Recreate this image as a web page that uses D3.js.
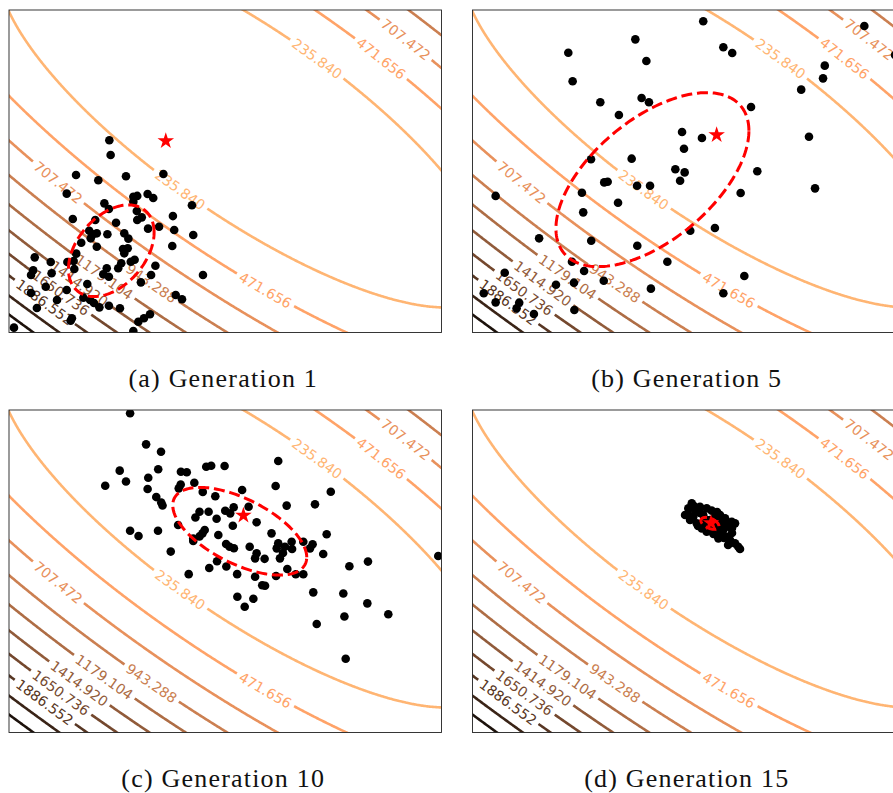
<!DOCTYPE html>
<html>
<head>
<meta charset="utf-8">
<script src="https://cdn.jsdelivr.net/npm/d3@7"></script>
<style>
  html, body { margin: 0; padding: 0; background: #fff; }
  svg { display: block; }
</style>
</head>
<body>
<div id="chart"></div>
<script>
// contour levels, as printed on the labels (first and last are not drawn)
const contourLevels = [0.024, 235.840, 471.656, 707.472, 943.288, 1179.104, 1414.920, 1650.736, 1886.552, 2122.368, 2358.184, 2594.000];

// where matplotlib put the inline labels: [level index, x, y]
const labelSpots = [
  [1, 4.29, 7.02], [2, 7.23, 7.00], [3, 8.31, 8.14],
  [3, -7.72, -0.71], [1, -2.09, -1.16], [2, 1.84, -7.36],
  [4, -3.36, -6.85], [5, -5.64, -6.64], [6, -6.72, -6.95],
  [7, -7.56, -7.47], [8, -8.34, -8.09]
];

const captions = ["(a) Generation 1", "(b) Generation 5", "(c) Generation 10", "(d) Generation 15"];

// sampled population of each generation
const gen1 = [
  [-5.36,1.92],[-5.30,1.01],[-6.90,-0.23],[-5.87,-0.56],[-4.59,-0.31],[-2.86,-0.17],[-7.33,-1.39],[-4.25,-1.58],[-4.07,-1.53],[-4.25,-1.89],
  [-3.59,-1.41],[-3.33,-1.66],[-5.59,-1.99],[-5.38,-2.34],[-1.54,-2.11],[-4.09,-2.47],[-4.07,-3.02],[-3.86,-2.86],[-7.05,-2.96],[-6.01,-3.02],
  [-5.05,-3.19],[-3.57,-3.56],[-3.06,-3.44],[-2.42,-2.78],[-2.36,-3.64],[-1.48,-3.95],[-6.29,-3.69],[-6.12,-3.91],[-5.94,-3.85],[-6.22,-4.16],
  [-5.45,-3.91],[-4.67,-3.85],[-4.48,-4.18],[-6.66,-4.43],[-5.94,-4.68],[-4.73,-4.82],[-4.51,-4.78],[-4.67,-5.09],[-2.45,-4.64],[-6.89,-5.11],
  [-8.81,-5.34],[-8.07,-5.63],[-7.30,-5.63],[-7.01,-5.57],[-4.37,-5.61],[-4.19,-5.49],[-4.95,-6.02],[-4.81,-5.71],[-5.48,-6.02],[-5.64,-6.39],
  [-5.38,-6.54],[-3.23,-5.86],[-3.43,-6.43],[-1.03,-6.43],[-6.98,-6.06],[-8.98,-6.43],[-8.88,-6.14],[-8.03,-6.33],[-3.90,-6.89],[-6.38,-6.99],
  [-8.30,-7.16],[-8.98,-7.55],[-7.33,-7.36],[-7.78,-7.98],[-6.56,-7.84],[-6.25,-7.98],[-6.07,-8.17],[-5.82,-8.44],[-5.38,-8.34],[-4.87,-8.50],
  [-2.29,-7.67],[-2.00,-7.94],[-8.71,-8.48],[-7.15,-9.27],[-7.09,-9.12],[-4.02,-9.33],[-3.76,-9.12],[-3.48,-8.87],[-4.25,-9.91],[-9.77,-9.70]
];
const gen5 = [
  [0.67,9.30],[8.12,9.01],[9.54,7.21],[-2.47,8.18],[-5.57,7.35],[-1.96,6.84],[1.60,7.69],[2.01,7.33],[-5.37,5.58],[6.29,6.55],
  [6.21,5.76],[5.20,5.06],[-4.09,4.28],[-2.18,4.54],[-1.84,4.28],[2.88,3.98],[-3.23,3.49],[-0.31,2.43],[0.61,2.06],[5.56,2.14],
  [-0.22,1.40],[-4.52,0.74],[-2.64,0.78],[-0.62,0.12],[-0.19,-0.07],[3.17,0.00],[-0.40,-0.59],[-3.91,-0.69],[-3.75,-0.65],[-2.39,-0.90],
  [-1.79,-0.90],[5.84,-1.06],[-8.93,-1.53],[-4.94,-1.33],[2.40,-1.35],[-3.27,-1.95],[-4.88,-2.55],[1.21,-3.52],[0.07,-3.69],[-6.92,-4.16],
  [-4.51,-4.31],[-2.38,-4.62],[-5.40,-5.61],[-0.99,-5.61],[-4.84,-6.19],[-8.51,-6.29],[2.57,-6.50],[-6.14,-7.04],[-5.31,-6.91],[-3.93,-6.79],
  [-9.48,-7.57],[-1.75,-7.28],[1.60,-7.57],[-8.93,-8.13],[-7.84,-8.15],[-7.96,-8.50],[-7.16,-8.85],[-5.29,-8.60]
];
const gen10 = [
  [-4.40,9.80],[-3.66,7.87],[-2.97,7.41],[-4.88,6.24],[-4.59,5.57],[-5.55,5.30],[-3.10,6.33],[-3.56,5.80],[-3.59,5.10],[-3.19,4.60],
  [-2.96,4.26],[-2.90,4.08],[-2.05,6.17],[-1.78,6.14],[-0.88,6.48],[-0.65,6.54],[-0.03,6.53],[-2.06,5.38],[-2.15,5.14],[-1.43,5.49],
  [-1.04,4.92],[-0.46,4.65],[0.78,5.04],[-1.19,3.69],[-0.77,3.69],[-1.38,3.33],[-0.40,3.26],[0.00,3.75],[0.39,3.97],[0.23,3.59],
  [1.08,4.00],[0.35,2.82],[1.45,3.04],[-4.40,2.51],[-4.01,2.19],[-3.11,2.51],[-2.18,2.87],[-0.95,2.56],[-1.05,2.35],[-1.19,2.16],
  [-1.48,2.03],[-1.48,1.88],[-0.32,2.25],[-2.52,1.22],[0.04,1.69],[0.20,1.52],[0.40,1.43],[1.13,1.52],[1.45,1.11],[1.38,0.80],
  [1.82,0.77],[2.14,2.35],[-0.38,0.62],[0.05,0.29],[-0.74,0.20],[0.55,-0.18],[-1.69,-0.18],[1.38,-0.34],[1.71,-0.87],[1.84,-0.90],
  [0.56,-1.58],[1.30,-1.71],[0.90,-2.20],[2.45,6.84],[2.33,5.29],[4.88,4.93],[2.84,4.07],[4.15,4.15],[4.69,2.29],[2.45,1.73],
  [2.38,1.42],[2.76,1.52],[3.07,1.83],[3.09,1.38],[2.53,0.80],[2.67,1.13],[3.61,1.83],[3.92,1.42],[4.04,1.67],[4.53,1.07],
  [2.87,0.14],[3.26,-0.19],[3.61,-0.19],[2.35,-0.29],[4.07,-1.31],[5.46,-1.38],[5.74,0.31],[6.60,0.60],[6.57,-1.99],[7.54,-2.67],
  [5.51,-2.81],[4.23,-3.27],[5.57,-5.43],[9.85,0.95]
];
const gen15 = [
  [0.14,4.21],[-0.02,3.90],[-0.17,3.49],[0.21,3.38],[0.52,4.00],[0.83,3.90],[1.06,3.76],[0.67,3.49],[1.45,3.49],[1.68,3.28],
  [1.99,3.07],[2.14,2.97],[0.37,2.97],[0.60,2.66],[0.83,2.45],[1.14,2.31],[1.45,2.39],[1.60,2.56],[1.76,2.14],[1.91,1.94],
  [2.14,1.73],[2.29,1.52],[0.98,3.18],[1.29,2.97],[1.14,2.76],[0.67,3.07],[1.83,2.76],[1.37,2.04],
  [0.29,3.80],[0.06,3.18],[0.84,3.18],[1.31,3.67],[1.77,3.05],[1.54,2.87],[0.98,2.56],[0.43,2.81],
  [2.00,2.37],[1.82,1.63],[2.37,1.38],[-0.03,3.55],
  [1.08,2.99],[1.35,2.74],[0.75,2.87],[1.21,3.36],[1.54,3.18],[0.52,3.61],[0.24,4.05],[2.00,2.68],[1.63,2.06]
];
const generations = [gen1, gen5, gen10, gen15];

// distribution mean (star) and covariance ellipse of each generation
const meanStar = [[-2.75, 1.88], [1.29, 2.25], [0.84, 3.46], [1.03, 3.00]];
const ellipseCenter = [[-5.27, -4.93], [-1.68, -0.52], [0.67, 2.48], [0.98, 2.97]];
// [var x, cov xy, var y]
const ellipseCov = [[3.92, 2.25, 8.07], [19.91, 13.52, 29.11], [9.60, -4.99, 7.40], [0.173, -0.072, 0.138]];

// Booth function, the objective behind the contours
function booth(x, y) {
  return (x + 2 * y - 7) ** 2 + (2 * x + y - 5) ** 2;
}

const width = 893, height = 793;
const W = 432.5, H = 322.5;
const panelOrigin = [[9, 10], [472.5, 10], [9, 410], [472.5, 410]];

const svg = d3.select("#chart").append("svg")
  .attr("width", width)
  .attr("height", height);

const x = d3.scaleLinear().domain([-10, 10]).range([0, W]);
const y = d3.scaleLinear().domain([-10, 10]).range([H, 0]);

// matplotlib copper colormap, reversed
function copper(t) {
  return d3.rgb(255 * Math.min(1, 1.25 * t), 255 * 0.7812 * t, 255 * 0.4975 * t).formatHex();
}
const color = d3.scaleSequential(t => copper(1 - t))
  .domain([contourLevels[0], contourLevels[contourLevels.length - 1]]);

// grid a bit larger than the view so the ring borders fall outside the clip
const gridMin = -12, gridStep = 0.05;
const gridN = Math.round(-2 * gridMin / gridStep) + 1;
const values = new Float64Array(gridN * gridN);
for (let j = 0; j < gridN; j++) {
  for (let i = 0; i < gridN; i++) {
    values[j * gridN + i] = booth(gridMin + i * gridStep, -gridMin - j * gridStep);
  }
}
const drawIdx = d3.range(1, contourLevels.length - 1);
const contours = d3.contours()
  .size([gridN, gridN])
  .thresholds(drawIdx.map(i => contourLevels[i]))(values);

// rings in pixel space, per level index
const ringsByLevel = new Map();
contours.forEach((c, k) => {
  const rings = [];
  c.coordinates.forEach(poly => poly.forEach(ring => {
    rings.push(ring.map(p => [
      x(gridMin + (p[0] - 0.5) * gridStep),
      y(-gridMin - (p[1] - 0.5) * gridStep)
    ]));
  }));
  ringsByLevel.set(drawIdx[k], rings);
});

const line = d3.line();
const defs = svg.append("defs");

function drawPanel(p) {
  const [ox, oy] = panelOrigin[p];
  const g = svg.append("g").attr("transform", "translate(" + ox + "," + oy + ")");

  defs.append("clipPath").attr("id", "clip" + p)
    .append("rect").attr("width", W).attr("height", H);
  const mask = defs.append("mask").attr("id", "mask" + p)
    .attr("maskUnits", "userSpaceOnUse")
    .attr("x", -20).attr("y", -20).attr("width", W + 40).attr("height", H + 40);
  mask.append("rect").attr("x", -20).attr("y", -20)
    .attr("width", W + 40).attr("height", H + 40).attr("fill", "white");

  const body = g.append("g").attr("clip-path", "url(#clip" + p + ")");

  // contour lines, with gaps cut under the labels
  const lines = body.append("g").attr("mask", "url(#mask" + p + ")");
  drawIdx.forEach(li => {
    ringsByLevel.get(li).forEach(r => {
      lines.append("path")
        .attr("d", line(r) + "Z")
        .attr("fill", "none")
        .attr("stroke", color(contourLevels[li]))
        .attr("stroke-width", 2.6);
    });
  });

  // inline labels
  const labels = body.append("g");
  labelSpots.forEach(([li, lx, ly]) => {
    const tx = x(lx), ty = y(ly);
    let best = null, bestD = Infinity;
    ringsByLevel.get(li).forEach(r => r.forEach((pt, k) => {
      const d = (pt[0] - tx) ** 2 + (pt[1] - ty) ** 2;
      if (d < bestD) { bestD = d; best = { r, k }; }
    }));
    const r = best.r, n = r.length;
    const a = r[(best.k - 5 + n) % n], b = r[(best.k + 5) % n];
    let ang = Math.atan2(b[1] - a[1], b[0] - a[0]) * 180 / Math.PI;
    if (ang > 90) ang -= 180;
    if (ang < -90) ang += 180;
    const c = r[best.k];
    const t = labels.append("text")
      .attr("transform", "translate(" + c[0] + "," + c[1] + ") rotate(" + ang + ")")
      .attr("text-anchor", "middle")
      .attr("dy", "0.36em")
      .style("font-family", "'DejaVu Sans', sans-serif")
      .style("font-size", "14px")
      .attr("fill", color(contourLevels[li]))
      .text(contourLevels[li].toFixed(3));
    const len = t.node().getComputedTextLength() + 8;
    mask.append("rect")
      .attr("x", -len / 2).attr("y", -7)
      .attr("width", len).attr("height", 14)
      .attr("transform", "translate(" + c[0] + "," + c[1] + ") rotate(" + ang + ")")
      .attr("fill", "black");
  });

  // population
  body.append("g").selectAll("circle")
    .data(generations[p])
    .enter()
    .append("circle")
    .attr("cx", d => x(d[0]))
    .attr("cy", d => y(d[1]))
    .attr("r", 4.3)
    .attr("fill", "black");

  // covariance ellipse (cholesky of the covariance applied to the unit circle)
  const [cxx, cxy, cyy] = ellipseCov[p];
  const l11 = Math.sqrt(cxx), l21 = cxy / l11, l22 = Math.sqrt(cyy - l21 * l21);
  const [ecx, ecy] = ellipseCenter[p];
  const ellPts = d3.range(0, 2 * Math.PI, Math.PI / 90).map(t => [
    x(ecx + l11 * Math.cos(t)),
    y(ecy + l21 * Math.cos(t) + l22 * Math.sin(t))
  ]);
  body.append("path")
    .attr("d", d3.line().curve(d3.curveLinearClosed)(ellPts))
    .attr("fill", "none")
    .attr("stroke", "red")
    .attr("stroke-width", 3)
    .attr("stroke-dasharray", "11,4.8");

  // mean
  body.append("path")
    .attr("d", d3.symbol().type(d3.symbolStar).size(85)())
    .attr("transform", "translate(" + x(meanStar[p][0]) + "," + y(meanStar[p][1]) + ")")
    .attr("fill", "red");

  // frame
  g.append("rect")
    .attr("width", W).attr("height", H)
    .attr("fill", "none")
    .attr("stroke", "#222")
    .attr("stroke-width", 0.9);

  // caption
  g.append("text")
    .attr("x", W / 2 - 2)
    .attr("y", H + 54.5)
    .attr("text-anchor", "middle")
    .style("font-family", "'Liberation Serif', serif")
    .style("font-size", "26px")
    .style("letter-spacing", "1.2px")
    .attr("fill", "#111")
    .text(captions[p]);
}

[0, 1, 2, 3].forEach(drawPanel);
</script>
</body>
</html>
